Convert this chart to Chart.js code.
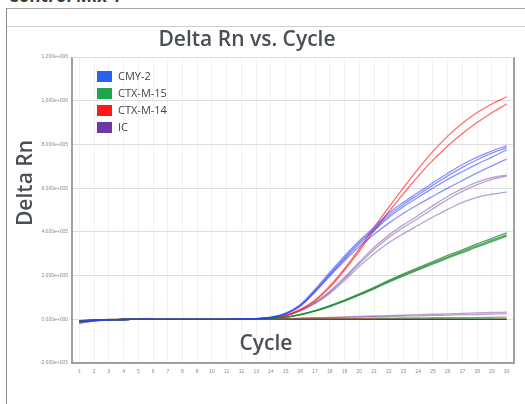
<!DOCTYPE html>
<html>
<head>
<meta charset="utf-8">
<script src="https://cdn.jsdelivr.net/npm/chart.js@4.4.0/dist/chart.umd.min.js"></script>
<style>
  html, body { margin: 0; padding: 0; background: #fff; }
  #wrap { position: relative; width: 525px; height: 404px; overflow: hidden; }
  #head { position: absolute; left: 8px; top: -16px; font: 700 17px "Open Sans", sans-serif; color: #3c3c3c; }
  .ln { position: absolute; }
  canvas { position: absolute; left: 0; top: 0; }
</style>
</head>
<body>
<div id="wrap">
  <div id="head">Control Mix 1</div>
  <div class="ln" style="left:6px;top:8px;width:519px;height:1px;background:#a8a8a8"></div>
  <div class="ln" style="left:6px;top:26px;width:519px;height:1px;background:#cfcfcf"></div>
  <div class="ln" style="left:6px;top:8px;width:1px;height:396px;background:#8a8a8a"></div>
  <canvas id="chart" width="525" height="404"></canvas>
</div>
<script>
// cycles on the x axis
const cycles = ['1','2','3','4','5','6','7','8','9','10','11','12','13','14','15',
  '16','17','18','19','20','21','22','23','24','25','26','27','28','29','30'];

// y axis ticks (Delta Rn)
const yMin = -200000, yMax = 1200000, yStep = 200000;

// replicate curves, values in thousands of Delta Rn
const cmy2 = [
  [-10,-5,-2,-1,0,0,0,0,0,0,0,1,3,10,28,68,138,215,290,360,420,485,535,580,625,668,708,742,770,795],
  [-11,-5,-2,-1,0,0,0,0,0,0,0,1,3,9,26,64,132,208,282,352,412,475,525,570,614,656,695,730,760,785],
  [-12,-6,-3,-1,0,0,0,0,0,0,0,1,3,9,25,62,128,202,276,345,405,466,515,558,600,640,676,710,742,775],
  [-10,-5,-2,-1,0,0,0,0,0,0,0,1,2,8,24,60,125,198,268,333,388,440,485,525,563,600,635,670,702,733]
];
const ctxM15 = [
  [-8,-4,-2,-1,0,0,0,0,0,0,0,0,1,4,10,22,40,62,88,116,146,178,208,236,264,292,318,345,370,395],
  [-9,-4,-2,-1,0,0,0,0,0,0,0,0,1,4,9,20,37,58,83,110,139,170,199,226,253,280,305,331,355,380],
  [-8,-4,-2,-1,0,0,0,0,0,0,0,0,1,4,9,21,38,60,85,113,142,174,203,231,258,285,311,337,362,386],
  [-6,-3,-1,0,0,0,0,0,0,0,0,0,0,0,0,1,1,1,1,1,1,2,2,2,2,2,2,2,2,2]
];
const ctxM14 = [
  [-8,-4,-2,-1,0,0,0,0,0,0,0,0,2,7,18,45,88,152,232,322,420,512,602,688,768,838,897,946,985,1018],
  [-9,-4,-2,-1,0,0,0,0,0,0,0,0,2,6,16,42,84,146,225,312,405,492,575,655,728,793,850,900,945,985],
  [-7,-3,-1,0,0,0,0,0,0,0,0,0,1,1,2,2,3,3,4,4,5,5,6,6,7,7,8,8,9,10]
];
const ic = [
  [-15,-7,-3,-1,0,0,0,0,0,0,0,0,2,7,18,42,78,128,192,262,328,385,432,475,520,562,598,628,648,660],
  [-16,-7,-3,-1,0,0,0,0,0,0,0,0,2,6,17,40,75,124,186,254,318,374,420,462,506,548,585,616,640,655],
  [-14,-6,-3,-1,0,0,0,0,0,0,0,0,2,6,16,38,72,118,178,242,300,350,392,430,468,503,535,558,572,582],
  [-18,-8,-3,-1,0,0,0,0,0,0,0,1,1,2,3,5,7,9,11,13,15,17,19,21,23,25,27,29,31,33],
  [-17,-7,-3,-1,0,0,0,0,0,0,0,1,1,2,3,4,6,7,9,10,12,13,15,16,18,19,21,22,24,26]
];
const navyFlat = [-9,-4,-2,-1,0,0,0,0,0,0,0,0,0,0,0,0,0,0,0,0,0,0,0,0,0,0,0,0,0,0];

const groupNames = ['CMY-2', 'CTX-M-15', 'CTX-M-14', 'IC'];
const groupColors = ['#2563f5', '#1fa54a', '#ff1a1a', '#6b3aa6'];
const lineColors = ['rgba(45,60,245,0.55)', 'rgba(25,135,45,0.75)', 'rgba(255,30,30,0.65)', 'rgba(125,85,170,0.55)'];

function sci(v) {
  const s = v.toExponential(3);
  const [m, e] = s.split('e');
  const sign = e[0];
  const n = Math.abs(parseInt(e, 10));
  return m + 'e' + sign + String(n).padStart(3, '0');
}

const datasets = [];
[cmy2, ctxM15, ctxM14, ic].forEach((grp, gi) => {
  grp.forEach(rep => {
    datasets.push({
      data: rep.map(v => v * 1000),
      borderColor: lineColors[gi],
      borderWidth: 1.3,
      pointRadius: 0,
      tension: 0.4,
      fill: false
    });
  });
});
datasets.push({ data: navyFlat.map(v => v * 1000), borderColor: 'rgba(10,20,70,0.85)', borderWidth: 1.3, pointRadius: 0, tension: 0.4 });

// titles, legend and frame of the plot area
const decor = {
  id: 'decor',
  afterDraw(chart) {
    const c = chart.ctx, a = chart.chartArea;
    c.save();
    c.strokeStyle = '#a0a0a0';
    c.lineWidth = 2;
    c.beginPath();
    c.moveTo(a.left, a.top); c.lineTo(a.left, a.bottom);
    c.lineTo(a.right, a.bottom); c.lineTo(a.right, a.top);
    c.stroke();
    c.strokeStyle = '#dcdcdc';
    c.lineWidth = 1;
    c.beginPath(); c.moveTo(a.left, a.top + 0.5); c.lineTo(a.right, a.top + 0.5); c.stroke();

    c.fillStyle = '#4a4e55';
    c.font = '600 21px "Open Sans"';
    c.textAlign = 'center';
    c.textBaseline = 'alphabetic';
    c.fillText('Delta Rn vs. Cycle', 247, 46);
    c.fillText('Cycle', 266, 350);

    c.save();
    c.translate(32, 183);
    c.rotate(-Math.PI / 2);
    c.fillText('Delta Rn', 0, 0);
    c.restore();

    c.font = '11px "Open Sans"';
    c.textAlign = 'left';
    c.textBaseline = 'middle';
    groupNames.forEach((name, i) => {
      const y = 71 + i * 17;
      c.fillStyle = groupColors[i];
      c.fillRect(97, y, 15, 11);
      c.fillStyle = '#444';
      c.fillText(name, 118, y + 6);
    });
    c.restore();
  }
};

new Chart(document.getElementById('chart'), {
  type: 'line',
  data: { labels: cycles, datasets: datasets },
  options: {
    responsive: false,
    animation: false,
    layout: { padding: { top: 57, left: 38, right: 11, bottom: 27 } },
    plugins: { legend: { display: false }, tooltip: { enabled: false } },
    scales: {
      x: {
        offset: true,
        afterFit: s => { s.height = 14; },
        grid: { color: '#f1f1f1', drawTicks: false, offset: false },
        border: { display: false },
        ticks: { color: '#8a8a8a', font: { size: 5 }, padding: 6, maxRotation: 0, autoSkip: false }
      },
      y: {
        min: yMin, max: yMax,
        afterFit: s => { s.width = 34; },
        grid: { color: '#dddddd', drawTicks: false },
        border: { display: false },
        ticks: { stepSize: yStep, color: '#8a8a8a', font: { size: 5 }, padding: 4, callback: v => sci(v) }
      }
    }
  },
  plugins: [decor]
});
</script>
</body>
</html>
